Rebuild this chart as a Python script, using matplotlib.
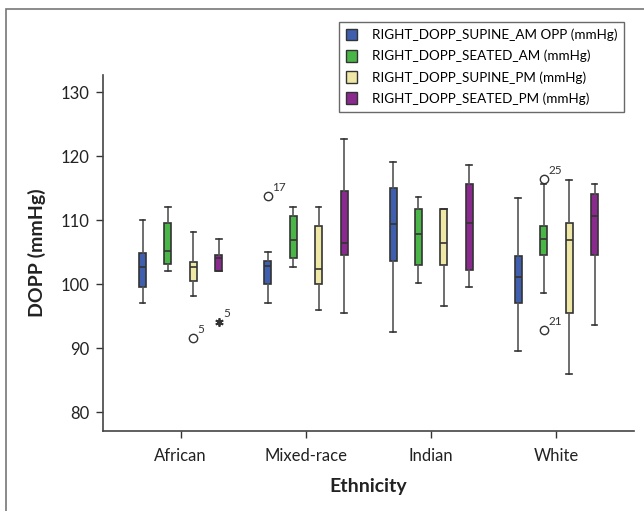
import matplotlib
matplotlib.use('Agg')

import numpy as np
import matplotlib.pyplot as plt
from matplotlib.patches import Rectangle, Patch

# ---------------- data ----------------
categories = ['African', 'Mixed-race', 'Indian', 'White']
series = ['RIGHT_DOPP_SUPINE_AM OPP (mmHg)', 'RIGHT_DOPP_SEATED_AM (mmHg)',
          'RIGHT_DOPP_SUPINE_PM (mmHg)', 'RIGHT_DOPP_SEATED_PM (mmHg)']
colors = ['#3F5FAE', '#4BB648', '#EEE7A6', '#8A2A8E']

# [whislo, q1, med, q3, whishi] per category, one list per series
supine_am = [[97.0, 99.5, 102.7, 104.9, 110.0],
             [97.1, 100.0, 102.9, 103.6, 105.0],
             [92.5, 103.6, 109.4, 115.0, 119.1],
             [89.6, 97.1, 101.1, 104.4, 113.5]]
seated_am = [[102.1, 103.1, 105.1, 109.5, 112.1],
             [102.6, 104.0, 106.9, 110.6, 112.1],
             [100.1, 103.0, 107.9, 111.7, 113.6],
             [98.6, 104.6, 107.1, 109.1, 115.6]]
supine_pm = [[98.1, 100.5, 102.7, 103.5, 108.1],
             [96.0, 100.0, 102.4, 109.1, 112.1],
             [96.5, 103.0, 106.4, 111.7, 111.7],
             [86.0, 95.5, 106.9, 109.5, 116.2]]
seated_pm = [[102.1, 102.1, 104.1, 104.6, 107.1],
             [95.5, 104.6, 106.4, 114.5, 122.7],
             [99.5, 102.2, 109.6, 115.6, 118.6],
             [93.6, 104.6, 110.7, 114.1, 115.6]]
all_series = [supine_am, seated_am, supine_pm, seated_pm]

# outliers: (series index, category index, value, case label, marker)
outliers = [(2, 0, 91.6, '5', 'o'),
            (3, 0, 94.0, '5', '*'),
            (0, 1, 113.8, '17', 'o'),
            (1, 3, 116.4, '25', 'o'),
            (1, 3, 92.8, '21', 'o')]

yticks = [80, 90, 100, 110, 120, 130]

# ---------------- plot ----------------
plt.rcParams['font.family'] = ['Lato', 'DejaVu Sans']

fig = plt.figure(figsize=(6.44, 5.11), dpi=100)
ax = fig.add_axes([0.160, 0.1566, 0.8245, 0.697])

# thin outer frame of the figure
fig.patches.append(Rectangle((6 / 644, -0.05), 1.0, 1 - 9 / 511 + 0.05,
                             transform=fig.transFigure, fill=False,
                             edgecolor='#777777', linewidth=1.2))

step = 0.203
box_w = 0.056
edge = '#333333'
for s, data in enumerate(all_series):
    stats = []
    for c, (lo, q1, med, q3, hi) in enumerate(data):
        stats.append(dict(whislo=lo, q1=q1, med=med, q3=q3, whishi=hi, fliers=[]))
    pos = np.arange(len(categories)) + (s - 1.5) * step
    ax.bxp(stats, positions=pos, widths=box_w, patch_artist=True,
           showfliers=False, manage_ticks=False,
           boxprops=dict(facecolor=colors[s], edgecolor=edge, linewidth=1.2),
           medianprops=dict(color=edge, linewidth=1.2),
           whiskerprops=dict(color='#555555', linewidth=1.2),
           capprops=dict(color=edge, linewidth=1.2),
           capwidths=0.045)

for s, c, val, lab, mk in outliers:
    x = c + (s - 1.5) * step
    if mk == 'o':
        ax.plot(x, val, marker='o', markersize=6, markerfacecolor='none',
                markeredgecolor='#333333', markeredgewidth=1.0, linestyle='none')
    else:
        ax.plot(x, val, marker=(6, 2, 0), markersize=6, color='#333333',
                markeredgewidth=1.3, linestyle='none')
    ax.text(x + 0.035, val + 0.5, lab, fontsize=8.5, color='#333333',
            ha='left', va='bottom')

ax.set_xlim(-0.62, 3.62)
ax.set_ylim(77.05, 132.7)
ax.set_xticks(np.arange(len(categories)))
ax.set_xticklabels(categories)
ax.set_yticks(yticks)
ax.tick_params(axis='both', labelsize=12, colors='#333333', length=5,
               width=1, labelcolor='#222222')
ax.tick_params(axis='y', pad=5)
ax.tick_params(axis='x', pad=7)
for side in ['top', 'right']:
    ax.spines[side].set_visible(False)
for side in ['left', 'bottom']:
    ax.spines[side].set_color('#444444')
    ax.spines[side].set_linewidth(1.2)

ax.set_ylabel('DOPP (mmHg)', fontsize=14, fontweight='bold', color='#222222',
              labelpad=10)
ax.set_xlabel('Ethnicity', fontsize=14, fontweight='bold', color='#222222',
              labelpad=10)

handles = [Patch(facecolor=colors[i], edgecolor='#333333', linewidth=1.0)
           for i in range(len(series))]
leg = fig.legend(handles, series, loc='upper right',
                 bbox_to_anchor=(631 / 644, 1 - 15 / 511), fontsize=9.7,
                 frameon=True, fancybox=False, handlelength=0.85,
                 handleheight=0.95, handletextpad=1.1, borderpad=0.5,
                 labelspacing=0.65)
leg.get_frame().set_edgecolor('#444444')
leg.get_frame().set_linewidth(1.0)

plt.savefig('out.png', dpi=100)
plt.close()
